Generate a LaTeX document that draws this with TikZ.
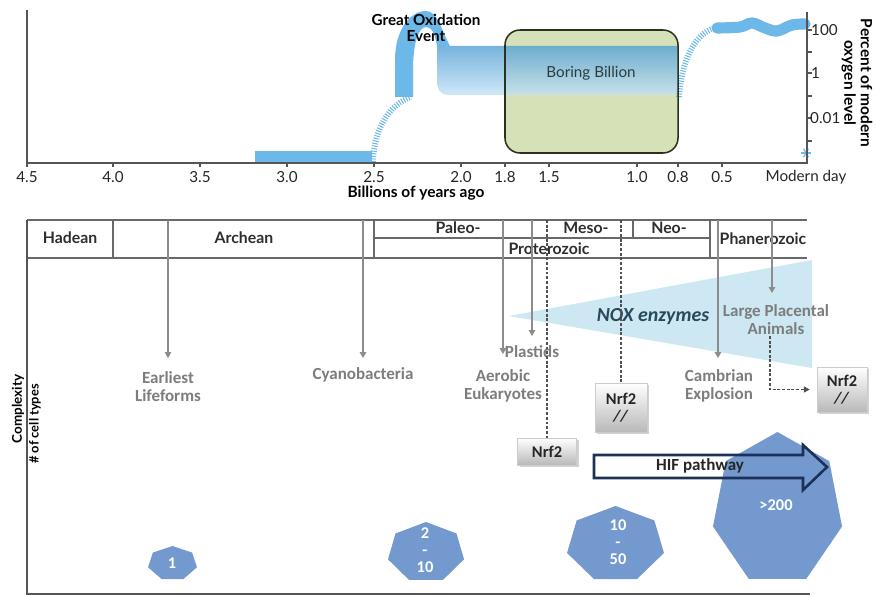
\documentclass[tikz,border=0pt]{standalone}
\usepackage{fontspec}
\setmainfont{Lato}
\newfontfamily\calfont{Carlito}
\usetikzlibrary{arrows.meta,calc}
\definecolor{oxblue}{RGB}{108,184,232}
\definecolor{banddark}{RGB}{85,160,212}
\definecolor{boxgreen}{RGB}{214,225,184}
\definecolor{boxedge}{RGB}{40,50,30}
\definecolor{axisgray}{RGB}{85,85,85}
\definecolor{tblgray}{RGB}{105,105,105}
\definecolor{arrgray}{RGB}{140,140,140}
\definecolor{lblgray}{RGB}{125,125,125}
\definecolor{dashgray}{RGB}{80,80,80}
\definecolor{noxblue}{RGB}{205,232,242}
\definecolor{noxtext}{RGB}{40,72,92}
\definecolor{heptblue}{RGB}{115,153,207}
\definecolor{hifnavy}{RGB}{28,48,88}
\definecolor{hdrtext}{RGB}{45,45,45}
\definecolor{boringtext}{RGB}{40,62,68}
\newcommand\heptshape[4]{\fill[hept] (#1,#2) +(-90:#3 and #4) -- +(-38.57:#3 and #4) -- +(12.86:#3 and #4) -- +(64.29:#3 and #4) -- +(115.71:#3 and #4) -- +(167.14:#3 and #4) -- +(218.57:#3 and #4) -- cycle;}
\begin{document}
\begin{tikzpicture}[x=0.03cm,y=-0.03cm,
  axis/.style={draw=axisgray, line width=1.3pt},
  tbl/.style={draw=tblgray, line width=1.1pt},
  garrow/.style={draw=arrgray, line width=1pt, -{Triangle[length=5pt,width=5.5pt]}},
  dline/.style={draw=dashgray, line width=1pt, dash pattern=on 2.5pt off 1.5pt},
  glabel/.style={font=\calfont\bfseries\fontsize{14.5}{15.5}\selectfont, text=lblgray, align=center, inner sep=0pt},
  hdr/.style={font=\bfseries\fontsize{13.5}{14}\selectfont, text=hdrtext, inner sep=0pt},
  ticklbl/.style={font=\fontsize{13}{14}\selectfont, text=black!85, inner sep=0pt},
  nrfbox/.style={draw=gray!40, line width=0.3pt, top color=white, bottom color=gray!55, font=\calfont\bfseries\fontsize{14}{14}\selectfont, text=black!85, align=center, inner sep=0pt},
  hept/.style={fill=heptblue},
  hnum/.style={font=\calfont\bfseries\fontsize{14}{14.5}\selectfont, text=white, align=center, inner sep=0pt},
  hatch/.style={draw=oxblue, line width=5pt, dash pattern=on 0.9pt off 1.3pt},
]
\useasboundingbox (0,0) rectangle (877,596);

% ---------------- top chart ----------------
% Boring Billion box fill
\fill[boxgreen, rounded corners=0.45cm] (505,30) rectangle (678,153);
% band of oxygen level
\shade[top color=banddark, bottom color=oxblue!40, fill opacity=0.8]
  (437,46) -- (678,46) -- (678,95) -- (448,95) .. controls (441,95) and (437,90) .. (437,80) -- cycle;
% GOE hump
\fill[oxblue] (395,97) -- (395,60) .. controls (395,30) and (410,11) .. (426,11)
  .. controls (438,11) and (442,32) .. (450,46) -- (437,46)
  .. controls (435,34) and (432,27) .. (426,27)
  .. controls (418,27) and (413,45) .. (413,70) -- (413,97) -- cycle;
% early flat bar
\fill[oxblue] (255,151) rectangle (372,162);
% hatched rises
\draw[hatch] (373,162) .. controls (374,128) and (390,104) .. (411,97);
\draw[hatch] (679,97) .. controls (682,60) and (694,35) .. (714,28);
% modern wavy level
\draw[oxblue, line width=9.5pt, line cap=round] plot[smooth, tension=0.6] coordinates {(717,28) (740,27) (752,23) (765,28) (777,31) (792,25) (805,24)};
% box border and label
\draw[boxedge, line width=1.3pt, rounded corners=0.45cm] (505,30) rectangle (678,153);
\node[font=\fontsize{13}{14}\selectfont, text=boringtext] (boring) at (591,73) {Boring Billion};
\node[font=\bfseries\fontsize{13}{14}\selectfont, align=center, inner sep=0pt] (goe) at (426,28) {Great Oxidation\\Event};
% asterisk
\foreach \a in {0,60,120} \draw[oxblue, line width=1pt] (806,153) +(\a:5) -- +(\a+180:5);
% axes
\draw[axis] (27,10) -- (27,163) -- (807,163) -- (807,12);
\foreach \x/\t in {27/4.5, 113/4.0, 200/3.5, 287/3.0, 374/2.5, 461/2.0, 505/1.8, 549/1.5, 637/1.0, 678/0.8, 722/0.5} {
  \draw[axis, line width=1pt] (\x,163) -- (\x,167);
  \node[ticklbl] (tk\x) at (\x,177) {\t};
}
\node[ticklbl] (tkmod) at (806,177) {Modern day};
\node[font=\bfseries\fontsize{13.2}{14}\selectfont, inner sep=0pt] (xlab) at (416,193) {Billions of years ago};
\foreach \y in {30,52,73,96,118,141} \draw[axis, line width=1pt] (807,\y) -- (812,\y);
\node[ticklbl, anchor=west] (y100) at (811,30) {100};
\node[ticklbl, anchor=west] (y1) at (811,73) {1};
\node[ticklbl, anchor=west] (y001) at (810,118) {0.01};
\node[rotate=-90, align=center, font=\bfseries\fontsize{13.2}{14}\selectfont, inner sep=0pt] (ylab) at (857,83) {Percent of modern\\oxygen level};

% ---------------- bottom chart ----------------
% NOX triangle
\fill[noxblue] (509,316) -- (812,260) -- (812,368) -- cycle;
\node[font=\calfont\bfseries\itshape\fontsize{17}{18}\selectfont, text=noxtext, inner sep=0pt] (nox) at (653,317) {NOX enzymes};
% table
\draw[tbl] (27,220) -- (807,220);
\draw[tbl] (27,258) -- (807,258);
\draw[tbl] (113,220) -- (113,258);
\draw[tbl] (374,220) -- (374,258);
\draw[tbl] (374,238) -- (710,238);
\draw[tbl] (633,220) -- (633,238);
\draw[tbl] (710,220) -- (710,258);
\draw[axis] (27,220) -- (27,594) -- (810,594);
\node[hdr] (had) at (70,238) {Hadean};
\node[hdr] (arc) at (244,238) {Archean};
\node[hdr] (pal) at (458,228) {Paleo-};
\node[hdr] (mes) at (586,228) {Meso-};
\node[hdr] (neo) at (669,228) {Neo-};
\node[hdr] (pro) at (549,249) {Proterozoic};
\node[hdr] (pha) at (763,239) {Phanerozoic};
% event labels
\node[glabel] (lif) at (168,387) {Earliest\\Lifeforms};
\node[glabel] (cya) at (363,375) {Cyanobacteria};
\node[glabel] (aer) at (503,386) {Aerobic\\Eukaryotes};
\node[glabel] (pla) at (532,352) {Plastids};
\node[glabel] (cam) at (719,386) {Cambrian\\Explosion};
\node[glabel] (lpa) at (776,320) {Large Placental\\Animals};
% event arrows
\coordinate (t-lif) at (168,220); \coordinate (e-lif) at (168,358);
\coordinate (t-cya) at (363,220); \coordinate (e-cya) at (363,358);
\coordinate (t-aer) at (503,220); \coordinate (e-aer) at (503,354);
\coordinate (t-pla) at (532,220); \coordinate (e-pla) at (532,336);
\coordinate (t-cam) at (718,220); \coordinate (e-cam) at (718,358);
\coordinate (t-lpa) at (772,220); \coordinate (e-lpa) at (772,293);
\foreach \n in {lif,cya,aer,pla,cam,lpa} \draw[garrow] (t-\n) -- (e-\n);
% Nrf2 boxes
\fill[gray!35] (520,440) rectangle (579,467);
\node[nrfbox, minimum width=1.77cm, minimum height=0.81cm] (nrfa) at (547,451.5) {Nrf2};
\fill[gray!35] (597,385) rectangle (649,434);
\node[nrfbox, minimum width=1.56cm, minimum height=1.47cm] (nrfb) at (621,407.5) {Nrf2\\[1pt]\textit{//}};
\fill[gray!35] (819,369) rectangle (869,414);
\node[nrfbox, minimum width=1.5cm, minimum height=1.35cm] (nrfc) at (842,389.5) {Nrf2\\[1pt]\textit{//}};
\coordinate (t-nrfa) at (547,220);
\coordinate (t-nrfb) at (621,220);
\coordinate (s-nrfc) at (770,336);
\draw[dline] (t-nrfa) -- (nrfa);
\draw[dline] (t-nrfb) -- (nrfb);
\draw[dline, -{Triangle[length=5pt,width=5pt]}, shorten >=6pt] (s-nrfc) |- (nrfc);
% heptagons
\heptshape{172.5}{563.4}{25.1}{17.4}
\heptshape{426}{552.5}{39}{30.5}
\heptshape{615.5}{544.4}{49.7}{38.4}
\heptshape{777.5}{509.3}{66.2}{77.3}
\node[hnum] (h1) at (172,563) {1};
\node[hnum] (h2) at (425,550) {2\\-\\10};
\node[hnum] (h3) at (618,542) {10\\-\\50};
\node[hnum] (h4) at (776,505) {>200};
% HIF arrow
\draw[hifnavy, line width=2.2pt, line join=miter] (594,455) -- (803,455) -- (803,445) -- (827,467) -- (803,490) -- (803,478) -- (594,478) -- cycle;
\node[font=\calfont\bfseries\fontsize{14.5}{15}\selectfont, text=black!85, inner sep=0pt] (hif) at (700,466) {HIF pathway};
% y label
\node[rotate=90, font=\bfseries\fontsize{11.5}{12}\selectfont, inner sep=0pt] (cpx) at (18,409) {Complexity};
\node[rotate=90, font=\bfseries\fontsize{11}{12}\selectfont, inner sep=0pt] (nct) at (35,424) {\# of cell types};
\end{tikzpicture}
\end{document}
